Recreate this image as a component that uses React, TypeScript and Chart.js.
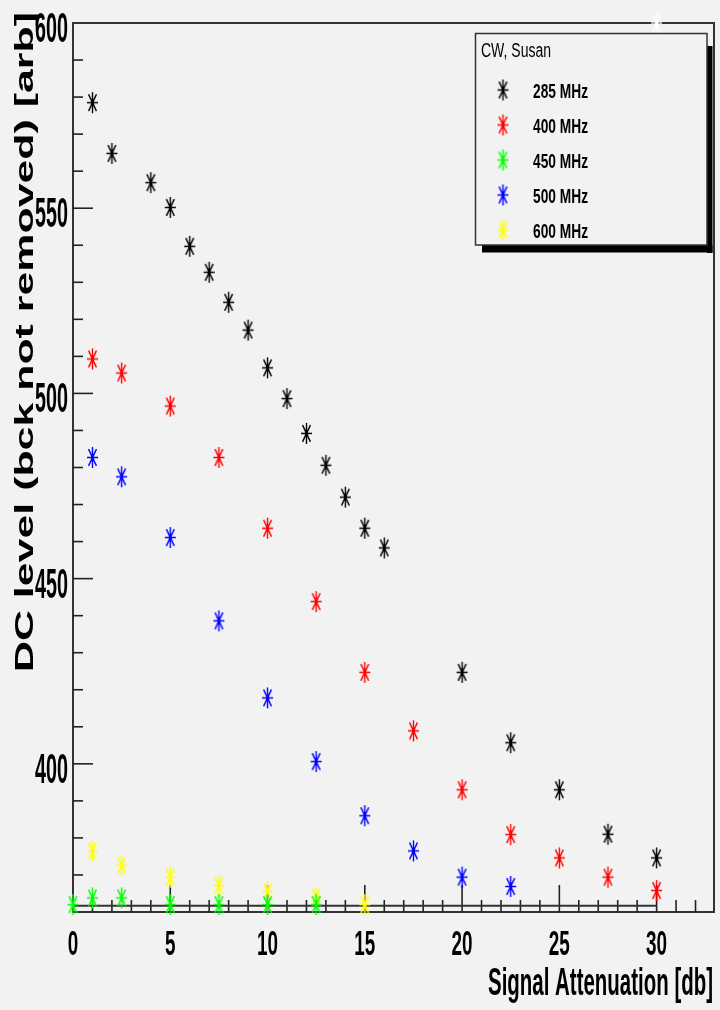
import { useEffect, useRef } from "react";
import { Chart, registerables } from "chart.js";

Chart.register(...registerables);

// Signal attenuation [db] and DC level [arb] for each frequency
const atten285 = [1, 2, 4, 5, 6, 7, 8, 9, 10, 11, 12, 13, 14, 15, 16, 20, 22.5, 25, 27.5, 30];
const level285 = [578.5, 564.8, 556.9, 550.2, 539.7, 532.7, 524.6, 517.1, 506.9, 498.6, 489.2, 480.6, 472.0, 463.6, 458.3, 424.7, 405.7, 393.0, 381.0, 374.6];

const atten400 = [1, 2.5, 5, 7.5, 10, 12.5, 15, 17.5, 20, 22.5, 25, 27.5, 30];
const level400 = [509.3, 505.5, 496.6, 482.7, 463.6, 443.8, 424.7, 408.9, 393.0, 380.9, 374.6, 369.4, 365.8];

const atten450 = [0, 1, 2.5, 5, 7.5, 10, 12.5];
const level450 = [362.0, 363.8, 363.8, 362.0, 362.0, 362.0, 362.0];

const atten500 = [1, 2.5, 5, 7.5, 10, 12.5, 15, 17.5, 20, 22.5];
const level500 = [482.7, 477.5, 461.1, 438.6, 417.8, 400.6, 386.0, 376.5, 369.4, 366.9];

const atten600 = [1, 2.5, 5, 7.5, 10, 12.5, 15];
const level600 = [376.4, 372.6, 369.4, 367.1, 365.6, 364.0, 362.0];

// range marker and baseline drawn with the graphs
const rangeMarkerX = [30];
const rangeMarkerY = [600];
const baselineX = [0, 30];
const baselineY = [361.7, 361.7];

const seriesNames = ["285 MHz", "400 MHz", "450 MHz", "500 MHz", "600 MHz"];
const seriesColors = ["#000000", "#ff0000", "#00ff00", "#0000ff", "#ffff00"];
const legendTitle = "CW, Susan";

const xTickLabels = [0, 5, 10, 15, 20, 25, 30];
const yTickLabels = [400, 450, 500, 550, 600];
const xTitle = "Signal Attenuation [db]";
const yTitle = "DC level (bck not removed) [arb]";

const X_MIN = 0;
const X_MAX = 32.95;
const Y_MIN = 360;
const Y_MAX = 600;

const FONT = '"Liberation Sans", Arial, Helvetica, sans-serif';

function pts(xs: number[], ys: number[]) {
  return xs.map((x, i) => ({ x, y: ys[i] }));
}

function makeStar(color: string): HTMLCanvasElement {
  const c = document.createElement("canvas");
  c.width = 13;
  c.height = 23;
  const g = c.getContext("2d")!;
  const cx = 6.5, cy = 11.5, hx = 5.5, hy = 10.5;
  g.strokeStyle = color;
  g.lineWidth = 1.4;
  g.beginPath();
  g.moveTo(cx, cy - hy); g.lineTo(cx, cy + hy);
  g.moveTo(cx - hx, cy); g.lineTo(cx + hx, cy);
  g.moveTo(cx - hx * 0.72, cy - hy * 0.8); g.lineTo(cx + hx * 0.72, cy + hy * 0.8);
  g.moveTo(cx + hx * 0.72, cy - hy * 0.8); g.lineTo(cx - hx * 0.72, cy + hy * 0.8);
  g.stroke();
  g.fillStyle = color;
  g.beginPath();
  g.arc(cx, cy, 1.8, 0, Math.PI * 2);
  g.fill();
  return c;
}

type TextOpts = {
  size: number;
  weight?: string;
  width?: number;
  sx?: number;
  align?: CanvasTextAlign;
  rotate?: number;
};

// draws text whose horizontal extent is squeezed (tall, narrow lettering)
function drawText(ctx: CanvasRenderingContext2D, text: string, x: number, y: number, o: TextOpts) {
  ctx.save();
  ctx.translate(x, y);
  if (o.rotate) ctx.rotate(o.rotate);
  ctx.font = `${o.weight ?? "bold"} ${o.size}px ${FONT}`;
  const w = ctx.measureText(text).width;
  const sx = o.width ? o.width / w : o.sx ?? 1;
  ctx.scale(sx, 1);
  ctx.textAlign = o.align ?? "left";
  ctx.textBaseline = "alphabetic";
  ctx.fillStyle = "#000";
  ctx.fillText(text, 0, 0);
  ctx.restore();
}

function line(ctx: CanvasRenderingContext2D, x1: number, y1: number, x2: number, y2: number) {
  ctx.beginPath();
  ctx.moveTo(x1, y1);
  ctx.lineTo(x2, y2);
  ctx.stroke();
}

export default function App() {
  const ref = useRef<HTMLCanvasElement | null>(null);

  useEffect(() => {
    if (!ref.current) return;
    const stars = seriesColors.map(makeStar);
    const whiteStar = makeStar("#ffffff");

    const framePlugin = {
      id: "frameAndText",
      beforeDatasetsDraw(chart: any) {
        const { ctx, chartArea: a, scales } = chart;
        const xs = scales.x, ys = scales.y;
        ctx.save();
        ctx.strokeStyle = "#333";
        ctx.lineWidth = 2;
        ctx.strokeRect(a.left, a.top, a.right - a.left, a.bottom - a.top);
        ctx.strokeStyle = "#222";
        ctx.lineWidth = 1.6;
        for (let v = Y_MIN + 10; v < Y_MAX; v += 10) {
          const py = ys.getPixelForValue(v);
          line(ctx, a.left, py, a.left + (v % 50 === 0 ? 20 : 10), py);
        }
        for (let v = 1; v <= Math.floor(X_MAX); v += 1) {
          const px = xs.getPixelForValue(v);
          line(ctx, px, a.bottom, px, a.bottom - (v % 5 === 0 ? 27 : 12));
        }
        ctx.restore();
      },
      afterDraw(chart: any) {
        const { ctx, scales } = chart;
        const xs = scales.x, ys = scales.y;
        yTickLabels.forEach((v) => {
          drawText(ctx, String(v), 68, ys.getPixelForValue(v) + 19, { size: 42, sx: 0.47, align: "right" });
        });
        xTickLabels.forEach((v) => {
          drawText(ctx, String(v), xs.getPixelForValue(v), 955, { size: 35, sx: 0.54, align: "center" });
        });
        drawText(ctx, xTitle, 713, 995, { size: 38, width: 225, align: "right" });
        drawText(ctx, yTitle, 33, 342, { size: 25, width: 660, align: "center", rotate: -Math.PI / 2 });

        // legend box with drop shadow
        ctx.save();
        ctx.fillStyle = "#000";
        ctx.fillRect(707, 46, 5.5, 207);
        ctx.fillRect(482, 245, 230.5, 7.5);
        ctx.fillStyle = "#f2f2f2";
        ctx.fillRect(475.5, 33.5, 231.5, 211.5);
        ctx.strokeStyle = "#333";
        ctx.lineWidth = 1.5;
        ctx.strokeRect(475.5, 33.5, 231.5, 211.5);
        ctx.restore();
        drawText(ctx, legendTitle, 481, 57, { size: 19.5, weight: "normal", width: 70 });
        seriesNames.forEach((name, i) => {
          const cy = 90 + i * 35;
          const s = stars[i];
          ctx.drawImage(s, 503 - s.width / 2, cy - s.height / 2);
          drawText(ctx, name, 533, cy + 7.5, { size: 21, width: 55 });
        });
      },
    };

    const seriesData = [
      pts(atten285, level285),
      pts(atten400, level400),
      pts(atten450, level450),
      pts(atten500, level500),
      pts(atten600, level600),
    ];

    const datasets: any[] = seriesData.map((d, i) => ({
      label: seriesNames[i],
      data: d,
      pointStyle: stars[i],
      pointRadius: 5,
      showLine: false,
      clip: false,
    }));
    datasets.push({
      label: "range",
      data: pts(rangeMarkerX, rangeMarkerY),
      pointStyle: whiteStar,
      pointRadius: 5,
      showLine: false,
      clip: false,
    });
    datasets.push({
      label: "baseline",
      data: pts(baselineX, baselineY),
      showLine: true,
      borderColor: "#333",
      borderWidth: 2,
      pointRadius: 0,
    });

    const chart = new Chart(ref.current, {
      type: "scatter",
      data: { datasets },
      options: {
        animation: false,
        responsive: false,
        maintainAspectRatio: false,
        events: [],
        layout: { padding: { left: 73, top: 23, right: 6, bottom: 98 } },
        scales: {
          x: { type: "linear", min: X_MIN, max: X_MAX, display: false },
          y: { type: "linear", min: Y_MIN, max: Y_MAX, display: false },
        },
        plugins: { legend: { display: false }, tooltip: { enabled: false } },
      },
      plugins: [framePlugin],
    });
    return () => chart.destroy();
  }, []);

  return (
    <div style={{ position: "fixed", left: 0, top: 0, width: 720, height: 1010, background: "#f2f2f2" }}>
      <canvas ref={ref} width={720} height={1010} style={{ display: "block" }} />
    </div>
  );
}
